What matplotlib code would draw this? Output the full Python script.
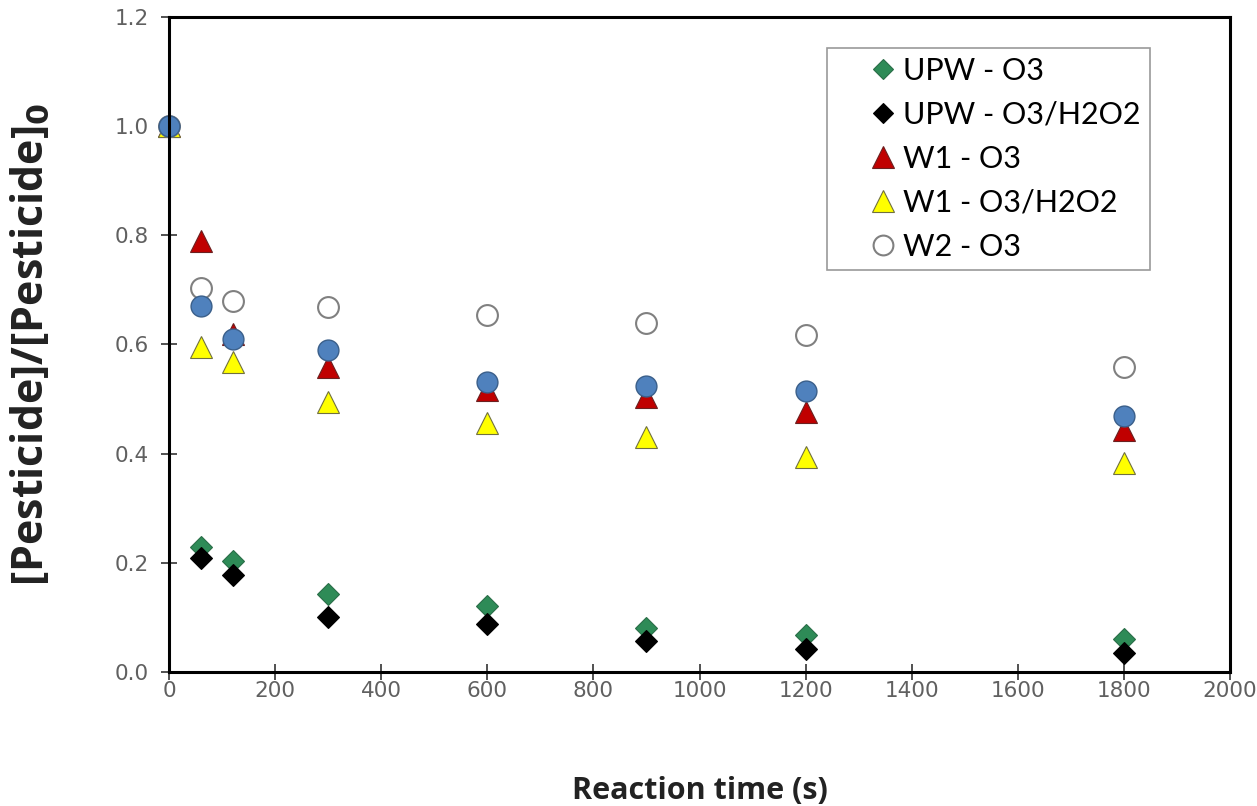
import numpy as np
import matplotlib
matplotlib.use("Agg")
import matplotlib.pyplot as plt

# reaction times (s)
t = [0, 60, 120, 300, 600, 900, 1200, 1800]

# normalised pesticide concentration
upw_o3 = [1.0, 0.229, 0.204, 0.143, 0.120, 0.080, 0.068, 0.060]
upw_o3h2o2 = [1.0, 0.209, 0.177, 0.100, 0.088, 0.057, 0.042, 0.035]
w1_o3 = [1.0, 0.79, 0.62, 0.559, 0.517, 0.504, 0.477, 0.443]
w1_o3h2o2 = [1.0, 0.595, 0.568, 0.495, 0.456, 0.431, 0.394, 0.383]
w2_o3 = [1.0, 0.703, 0.68, 0.669, 0.654, 0.640, 0.617, 0.558]
w2_o3h2o2 = [1.0, 0.67, 0.61, 0.590, 0.532, 0.523, 0.515, 0.468]

plt.rcParams['font.family'] = ['Lato', 'DejaVu Sans']

fig = plt.figure(figsize=(12.57, 8.06), dpi=100)
ax = fig.add_axes([0.1345, 0.1663, 0.844, 0.8127])

kw = dict(ls='none', clip_on=False)
ax.plot(t, upw_o3, 'D', ms=11, mfc='#2e8b57', mec='#2a6e48', mew=0.8, label='UPW - O3', **kw)
ax.plot(t, upw_o3h2o2, 'D', ms=11, mfc='black', mec='black', mew=0.8, label='UPW - O3/H2O2', **kw)
ax.plot(t, w1_o3, '^', ms=16, mfc='#c00000', mec='#6b2020', mew=0.8, label='W1 - O3', **kw)
ax.plot(t, w1_o3h2o2, '^', ms=16, mfc='#ffff00', mec='#707040', mew=0.8, label='W1 - O3/H2O2', **kw)
ax.plot(t, w2_o3, 'o', ms=15, mfc='white', mec='#808080', mew=1.5, label='W2 - O3', **kw)
# blue series is not listed in the legend
ax.plot(t, w2_o3h2o2, 'o', ms=15, mfc='#4f81bd', mec='#3a5f8a', mew=1.0, **kw)

ax.set_xlim(0, 2000)
ax.set_ylim(0, 1.2)
ax.set_xticks(np.arange(0, 2001, 200))
ax.set_yticks(np.arange(0, 1.21, 0.2))
ax.set_yticklabels([f"{v:.1f}" for v in np.arange(0, 1.21, 0.2)])

for s in ax.spines.values():
    s.set_linewidth(2.2)
    s.set_color('black')
ax.tick_params(direction='inout', length=11, width=1.2, color='#333333',
               labelsize=15.5, labelcolor='#606060')
ax.tick_params(axis='x', pad=1)
ax.tick_params(axis='y', pad=9)
for lab in ax.get_xticklabels() + ax.get_yticklabels():
    lab.set_family('DejaVu Sans')

ax.set_xlabel('Reaction time (s)', fontsize=22, fontweight='bold', labelpad=54,
              color='#222222', family='Open Sans')
ax.set_ylabel(r'[Pesticide]/[Pesticide]$_\mathbf{0}$', fontsize=31, fontweight='bold',
              labelpad=44, color='#222222', family='Open Sans')

leg = ax.legend(loc='upper right', bbox_to_anchor=(0.9246, 0.9527), borderaxespad=0,
                fontsize=22, frameon=True, fancybox=False, edgecolor='#808080',
                handlelength=3.1, handletextpad=-0.9, labelspacing=0.52, borderpad=0.3,
                markerscale=0.95)
leg.get_frame().set_linewidth(1.2)

fig.savefig('out.png', dpi=100)
